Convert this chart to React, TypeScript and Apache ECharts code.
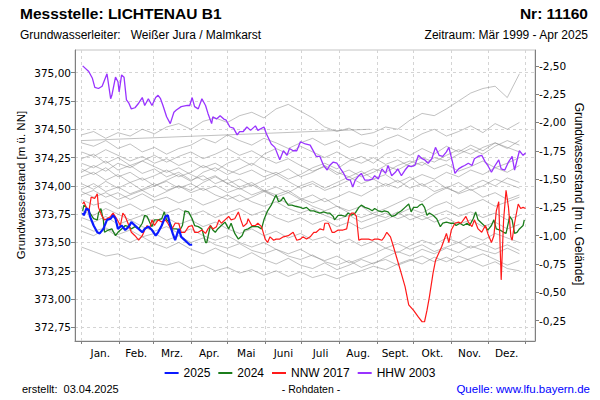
import React, { useEffect, useRef } from "react";
import * as echarts from "echarts";

// ---------- axis definitions ----------
const MONTH_LABELS = ["Jan.", "Feb.", "Mrz.", "Apr.", "Mai", "Juni", "Juli", "Aug.", "Sept.", "Okt.", "Nov.", "Dez."];
const MONTH_STARTS = [0, 31, 59, 90, 120, 151, 181, 212, 243, 273, 304, 334, 365];
const MONTH_MIDS = [15.5, 45, 74.5, 105, 135.5, 166, 196.5, 227.5, 258, 288.5, 319, 349.5];
const LEFT_TICKS = [372.75, 373, 373.25, 373.5, 373.75, 374, 374.25, 374.5, 374.75, 375];
const RIGHT_TICKS = [-2.5, -2.25, -2, -1.75, -1.5, -1.25, -1, -0.75, -0.5, -0.25];
const GROUND_LEVEL = 372.56; // m ü. NN reference for "m u. Gelände"
const Y_MIN = 372.63;
const Y_MAX = 375.2;
const X_MIN = -5.3;
const X_MAX = 372.8;

// ---------- highlighted years: [day of year, level m ü. NN] ----------
const Y2025: number[][] = [
  [1, 373.76], [2, 373.74], [4, 373.80], [6, 373.79], [7, 373.73], [10, 373.65], [13, 373.59], [15, 373.58], [18, 373.62], [21, 373.70],
  [24, 373.71], [26, 373.74], [28, 373.71], [30, 373.62], [33, 373.65], [36, 373.61], [39, 373.64], [41, 373.68], [44, 373.65], [47, 373.62],
  [50, 373.59], [52, 373.62], [55, 373.64], [58, 373.61], [61, 373.56], [63, 373.59], [66, 373.65], [69, 373.73], [71, 373.74], [73, 373.65],
  [75, 373.58], [77, 373.52], [80, 373.62], [82, 373.55], [84, 373.53], [87, 373.50], [89, 373.48], [91, 373.48],
];

const Y2024: number[][] = [
  [1, 373.78], [2, 373.83], [4, 373.81], [7, 373.76], [10, 373.71], [13, 373.70], [14, 373.76], [16, 373.80], [18, 373.70], [19, 373.59],
  [22, 373.61], [25, 373.62], [28, 373.56], [30, 373.59], [33, 373.62], [36, 373.65], [39, 373.64], [41, 373.62], [44, 373.64], [47, 373.62],
  [50, 373.67], [52, 373.74], [54, 373.73], [56, 373.68], [58, 373.64], [60, 373.70], [63, 373.70], [66, 373.71], [68, 373.77], [70, 373.70],
  [73, 373.67], [75, 373.62], [78, 373.62], [81, 373.61], [83, 373.65], [85, 373.78], [88, 373.77], [91, 373.71], [93, 373.65], [96, 373.64],
  [99, 373.62], [102, 373.50], [103, 373.50], [106, 373.65], [108, 373.61], [110, 373.59], [112, 373.62], [115, 373.65], [118, 373.68], [121, 373.62],
  [123, 373.67], [126, 373.58], [129, 373.53], [132, 373.56], [134, 373.61], [137, 373.62], [140, 373.64], [143, 373.64], [145, 373.64], [148, 373.62],
  [150, 373.70], [153, 373.78], [156, 373.83], [159, 373.90], [160, 373.92], [162, 373.86], [164, 373.87], [166, 373.90], [168, 373.86], [170, 373.83],
  [173, 373.83], [176, 373.82], [180, 373.81], [182, 373.80], [185, 373.81], [188, 373.78], [191, 373.78], [193, 373.77], [196, 373.76], [199, 373.77],
  [202, 373.76], [204, 373.76], [207, 373.73], [208, 373.70], [211, 373.74], [214, 373.74], [217, 373.73], [219, 373.76], [222, 373.74], [225, 373.76],
  [228, 373.81], [230, 373.83], [233, 373.81], [236, 373.80], [239, 373.78], [241, 373.80], [244, 373.78], [247, 373.77], [249, 373.78], [252, 373.77],
  [255, 373.73], [258, 373.74], [260, 373.76], [263, 373.78], [266, 373.81], [269, 373.84], [271, 373.77], [273, 373.81], [276, 373.81], [278, 373.83],
  [280, 373.84], [282, 373.81], [284, 373.74], [286, 373.76], [289, 373.74], [292, 373.71], [295, 373.64], [297, 373.67], [300, 373.68], [303, 373.67],
  [306, 373.67], [308, 373.65], [311, 373.67], [314, 373.65], [317, 373.67], [319, 373.65], [322, 373.71], [324, 373.77], [326, 373.70], [329, 373.67],
  [332, 373.64], [334, 373.61], [337, 373.65], [339, 373.70], [341, 373.62], [344, 373.61], [347, 373.59], [349, 373.58], [352, 373.73], [354, 373.70],
  [356, 373.58], [358, 373.59], [360, 373.62], [363, 373.65], [364, 373.70],
];

const NNW2017: number[][] = [
  [1, 373.84], [2, 373.86], [4, 373.81], [6, 373.77], [8, 373.90], [11, 373.89], [13, 373.93], [14, 373.81], [17, 373.73], [19, 373.70],
  [21, 373.71], [24, 373.73], [26, 373.76], [29, 373.71], [32, 373.65], [34, 373.76], [36, 373.73], [39, 373.65], [41, 373.59], [44, 373.56],
  [47, 373.52], [50, 373.56], [52, 373.61], [54, 373.65], [56, 373.62], [58, 373.70], [60, 373.65], [63, 373.70], [66, 373.68], [69, 373.70],
  [71, 373.67], [74, 373.61], [77, 373.67], [80, 373.67], [82, 373.59], [85, 373.59], [88, 373.64], [91, 373.65], [93, 373.59], [96, 373.59],
  [99, 373.61], [102, 373.58], [104, 373.62], [106, 373.65], [108, 373.62], [111, 373.64], [113, 373.70], [115, 373.67], [118, 373.70], [121, 373.73],
  [123, 373.70], [126, 373.71], [129, 373.77], [131, 373.70], [133, 373.64], [136, 373.67], [137, 373.71], [140, 373.65], [143, 373.65], [145, 373.67],
  [148, 373.64], [151, 373.53], [153, 373.50], [155, 373.55], [158, 373.52], [160, 373.53], [163, 373.53], [166, 373.55], [170, 373.56], [174, 373.59],
  [177, 373.52], [180, 373.53], [182, 373.55], [185, 373.53], [188, 373.55], [191, 373.59], [193, 373.59], [196, 373.62], [199, 373.61], [200, 373.67],
  [203, 373.67], [206, 373.59], [208, 373.59], [211, 373.61], [215, 373.61], [218, 373.62], [220, 373.73], [222, 373.76], [224, 373.76], [226, 373.73],
  [228, 373.52], [230, 373.53], [233, 373.53], [236, 373.53], [239, 373.52], [241, 373.53], [244, 373.53], [247, 373.52], [249, 373.55], [251, 373.59],
  [254, 373.55], [256, 373.48], [259, 373.37], [262, 373.26], [266, 373.11], [269, 372.95], [273, 372.90], [277, 372.84], [280, 372.80], [282, 372.80],
  [284, 372.90], [286, 373.02], [289, 373.23], [291, 373.34], [293, 373.39], [296, 373.46], [298, 373.52], [300, 373.58], [302, 373.50], [304, 373.61],
  [307, 373.67], [310, 373.68], [312, 373.67], [314, 373.70], [316, 373.73], [318, 373.68], [321, 373.64], [323, 373.70], [326, 373.62], [329, 373.59],
  [332, 373.65], [334, 373.58], [337, 373.50], [339, 373.56], [341, 373.78], [343, 373.86], [345, 373.17], [347, 373.70], [349, 373.96], [351, 373.81],
  [353, 373.55], [354, 373.52], [356, 373.67], [359, 373.84], [361, 373.80], [363, 373.81], [365, 373.80],
];

const HHW2003: number[][] = [
  [1, 375.06], [6, 375.01], [9, 374.95], [11, 374.87], [14, 374.86], [17, 374.88], [21, 374.99], [24, 374.77], [25, 374.80], [28, 374.96],
  [30, 374.92], [31, 374.83], [33, 374.98], [35, 374.96], [37, 374.76], [39, 374.73], [41, 374.68], [44, 374.69], [47, 374.73], [50, 374.78],
  [52, 374.71], [55, 374.77], [58, 374.71], [61, 374.78], [63, 374.80], [65, 374.77], [67, 374.71], [70, 374.61], [73, 374.55], [76, 374.65],
  [78, 374.67], [82, 374.70], [87, 374.71], [89, 374.71], [91, 374.78], [93, 374.70], [96, 374.68], [99, 374.77], [102, 374.71], [104, 374.64],
  [107, 374.55], [108, 374.61], [111, 374.59], [114, 374.62], [117, 374.59], [119, 374.58], [122, 374.52], [125, 374.51], [128, 374.45], [130, 374.48],
  [133, 374.48], [136, 374.52], [139, 374.49], [143, 374.53], [145, 374.49], [150, 374.52], [152, 374.46], [156, 374.37], [159, 374.34], [163, 374.23],
  [166, 374.31], [169, 374.27], [171, 374.33], [174, 374.31], [177, 374.31], [180, 374.39], [184, 374.37], [188, 374.36], [191, 374.30], [193, 374.26],
  [196, 374.26], [199, 374.18], [202, 374.14], [204, 374.18], [207, 374.21], [210, 374.20], [213, 374.15], [215, 374.12], [218, 374.06], [221, 374.05],
  [223, 373.99], [225, 374.05], [228, 374.09], [230, 374.11], [233, 374.05], [236, 374.05], [239, 374.06], [241, 374.09], [244, 374.06], [247, 374.15],
  [250, 374.11], [252, 374.18], [255, 374.09], [258, 374.12], [260, 374.15], [263, 374.09], [266, 374.14], [269, 374.18], [271, 374.17], [274, 374.18],
  [277, 374.27], [280, 374.24], [282, 374.23], [285, 374.20], [288, 374.24], [291, 374.34], [294, 374.27], [297, 374.26], [300, 374.30], [302, 374.34],
  [305, 374.21], [307, 374.11], [310, 374.15], [313, 374.17], [315, 374.18], [318, 374.20], [321, 374.18], [323, 374.24], [326, 374.26], [329, 374.27],
  [332, 374.21], [334, 374.18], [337, 374.12], [340, 374.18], [343, 374.23], [345, 374.15], [348, 374.14], [351, 374.21], [354, 374.26], [356, 374.14],
  [360, 374.31], [363, 374.27], [365, 374.29],
];

// ---------- other years of the record (grey), sampled every 10 days ----------
const GRAY_DAYS = [0, 10, 20, 30, 40, 50, 60, 70, 80, 90, 100, 110, 120, 130, 140, 150, 160, 170, 180, 190, 200, 210, 220, 230, 240, 250, 260, 270, 280, 290, 300, 310, 320, 330, 340, 350, 360];
const G01 = [374.45, 374.48, 374.42, 374.47, 374.44, 374.50, 374.46, 374.52, 374.55, 374.50, 374.57, 374.60, 374.56, 374.62, 374.65, 374.60, 374.68, 374.72, 374.66, 374.60, 374.52, 374.48, 374.51, 374.45, 374.47, 374.52, 374.50, 374.58, 374.64, 374.62, 374.68, 374.75, 374.82, 374.86, 374.88, 374.78, 374.99];
const G02 = [374.38, 374.35, 374.40, 374.33, 374.37, 374.30, 374.34, 374.28, 374.33, 374.36, 374.42, 374.38, 374.45, 374.40, 374.36, 374.42, 374.38, 374.33, 374.38, 374.42, 374.36, 374.40, 374.34, 374.38, 374.35, 374.41, 374.45, 374.40, 374.46, 374.50, 374.44, 374.48, 374.53, 374.47, 374.55, 374.50, 374.56];
const G03 = [374.24, 374.28, 374.20, 374.25, 374.18, 374.22, 374.27, 374.21, 374.26, 374.30, 374.24, 374.28, 374.33, 374.27, 374.31, 374.25, 374.20, 374.24, 374.18, 374.13, 374.17, 374.10, 374.14, 374.08, 374.12, 374.18, 374.14, 374.20, 374.25, 374.21, 374.27, 374.32, 374.28, 374.34, 374.38, 374.33, 374.40];
const G04 = [374.15, 374.10, 374.16, 374.08, 374.12, 374.05, 374.09, 374.14, 374.08, 374.12, 374.18, 374.13, 374.20, 374.24, 374.18, 374.28, 374.33, 374.28, 374.35, 374.30, 374.25, 374.30, 374.24, 374.20, 374.25, 374.19, 374.23, 374.17, 374.21, 374.15, 374.19, 374.13, 374.17, 374.22, 374.16, 374.20, 374.25];
const G05 = [374.08, 374.12, 374.05, 374.10, 374.03, 374.07, 374.00, 374.04, 373.98, 374.02, 373.96, 374.00, 373.94, 373.98, 373.92, 373.96, 373.90, 373.94, 373.88, 373.92, 373.86, 373.90, 373.95, 373.91, 373.97, 374.02, 373.98, 374.05, 374.10, 374.06, 374.12, 374.08, 374.14, 374.10, 374.16, 374.12, 374.18];
const G06 = [374.20, 374.16, 374.22, 374.14, 374.18, 374.11, 374.15, 374.08, 374.12, 374.05, 374.09, 374.02, 374.06, 373.99, 374.03, 373.96, 373.92, 373.96, 373.89, 373.85, 373.89, 373.82, 373.78, 373.82, 373.75, 373.72, 373.77, 373.70, 373.74, 373.68, 373.72, 373.66, 373.70, 373.64, 373.68, 373.62, 373.66];
const G07 = [374.02, 373.97, 374.04, 373.98, 374.03, 373.96, 374.00, 374.05, 374.10, 374.04, 374.12, 374.16, 374.10, 374.15, 374.20, 374.14, 374.10, 374.15, 374.08, 374.12, 374.18, 374.12, 374.08, 374.13, 374.06, 374.10, 374.03, 374.08, 374.00, 374.05, 373.98, 374.03, 373.96, 374.00, 374.06, 374.02, 373.98];
const G08 = [373.92, 373.96, 373.90, 373.94, 373.88, 373.93, 373.87, 373.90, 373.85, 373.89, 373.83, 373.87, 373.92, 373.86, 373.90, 373.95, 373.99, 373.94, 374.00, 374.04, 373.98, 374.03, 374.08, 374.02, 374.06, 374.00, 374.05, 373.98, 374.02, 373.95, 373.99, 373.93, 373.97, 373.90, 373.94, 373.88, 373.92];
const G09 = [374.30, 374.26, 374.32, 374.27, 374.22, 374.26, 374.20, 374.24, 374.18, 374.22, 374.16, 374.20, 374.14, 374.10, 374.14, 374.08, 374.12, 374.06, 374.10, 374.16, 374.20, 374.15, 374.22, 374.26, 374.20, 374.28, 374.32, 374.27, 374.33, 374.28, 374.35, 374.30, 374.36, 374.31, 374.38, 374.34, 374.30];
const G10 = [373.88, 373.83, 373.86, 373.80, 373.84, 373.78, 373.82, 373.76, 373.80, 373.74, 373.78, 373.72, 373.76, 373.80, 373.74, 373.78, 373.72, 373.68, 373.72, 373.66, 373.70, 373.64, 373.68, 373.62, 373.66, 373.70, 373.75, 373.80, 373.76, 373.82, 373.86, 373.80, 373.84, 373.88, 373.82, 373.86, 373.90];
const G11 = [373.78, 373.74, 373.80, 373.75, 373.70, 373.74, 373.68, 373.72, 373.66, 373.70, 373.64, 373.68, 373.62, 373.58, 373.62, 373.56, 373.60, 373.54, 373.58, 373.52, 373.55, 373.49, 373.53, 373.47, 373.51, 373.45, 373.49, 373.44, 373.48, 373.42, 373.46, 373.50, 373.45, 373.49, 373.44, 373.48, 373.43];
const G12 = [373.65, 373.60, 373.63, 373.57, 373.61, 373.55, 373.58, 373.52, 373.56, 373.50, 373.54, 373.48, 373.45, 373.49, 373.43, 373.40, 373.44, 373.38, 373.35, 373.39, 373.33, 373.30, 373.34, 373.28, 373.32, 373.35, 373.30, 373.34, 373.38, 373.33, 373.37, 373.32, 373.36, 373.40, 373.35, 373.30, 373.34];
const G13 = [373.46, 373.42, 373.38, 373.40, 373.35, 373.37, 373.32, 373.30, 373.33, 373.27, 373.30, 373.25, 373.28, 373.23, 373.26, 373.21, 373.25, 373.20, 373.24, 373.19, 373.22, 373.18, 373.22, 373.25, 373.29, 373.26, 373.31, 373.35, 373.31, 373.37, 373.33, 373.38, 373.34, 373.29, 373.33, 373.27, 373.25];
const G14 = [373.72, 373.68, 373.73, 373.66, 373.70, 373.64, 373.60, 373.64, 373.58, 373.62, 373.56, 373.52, 373.56, 373.50, 373.46, 373.50, 373.44, 373.40, 373.44, 373.38, 373.34, 373.38, 373.32, 373.36, 373.40, 373.45, 373.41, 373.47, 373.52, 373.48, 373.54, 373.50, 373.56, 373.52, 373.58, 373.54, 373.50];
const G15 = [373.97, 374.02, 373.95, 373.99, 373.93, 373.97, 374.02, 373.96, 374.00, 373.94, 373.98, 373.92, 373.88, 373.92, 373.86, 373.82, 373.86, 373.80, 373.76, 373.80, 373.74, 373.70, 373.74, 373.68, 373.72, 373.76, 373.71, 373.75, 373.70, 373.74, 373.78, 373.73, 373.77, 373.72, 373.76, 373.70, 373.74];
const G16 = [374.12, 374.18, 374.13, 374.20, 374.16, 374.22, 374.17, 374.12, 374.16, 374.10, 374.05, 374.09, 374.02, 373.97, 374.01, 373.95, 373.90, 373.84, 373.88, 373.82, 373.78, 373.82, 373.76, 373.72, 373.76, 373.80, 373.85, 373.90, 373.86, 373.93, 373.98, 373.94, 374.00, 374.05, 374.00, 374.07, 374.03];
const G17 = [373.95, 373.90, 373.94, 373.88, 373.92, 373.96, 373.90, 373.95, 374.00, 373.96, 374.03, 374.08, 374.02, 374.06, 374.00, 374.05, 374.10, 374.04, 373.98, 374.02, 373.96, 374.00, 374.05, 374.10, 374.15, 374.12, 374.18, 374.22, 374.18, 374.25, 374.22, 374.28, 374.33, 374.28, 374.35, 374.40, 374.36];
const G18 = [373.60, 373.56, 373.62, 373.55, 373.50, 373.55, 373.49, 373.45, 373.50, 373.44, 373.40, 373.45, 373.40, 373.36, 373.41, 373.35, 373.31, 373.36, 373.30, 373.27, 373.32, 373.26, 373.30, 373.35, 373.31, 373.37, 373.42, 373.38, 373.44, 373.40, 373.45, 373.41, 373.47, 373.43, 373.40, 373.45, 373.40];
const GRAY_SPARSE: number[][] = [[0, 374.40], [237, 374.50]];
const GRAY_YEARS = [G01, G02, G03, G04, G05, G06, G07, G08, G09, G10, G11, G12, G13, G14, G15, G16, G17, G18];

const fmt = (v: number) => v.toFixed(2).replace(".", ",");
const SANS = '"Liberation Sans", Arial, sans-serif';
const TICKFONT = '"DejaVu Sans", sans-serif';

export default function App() {
  const ref = useRef<HTMLDivElement>(null);

  useEffect(() => {
    const chart = echarts.init(ref.current!, null, { renderer: "svg" });

    const grayStyle = { color: "#8c8c8c", width: 0.9, opacity: 0.6 };
    const graySeries: any[] = GRAY_YEARS.map((vals, i) => ({
      name: "g" + i,
      type: "line",
      data: GRAY_DAYS.map((d, j) => [d, vals[j]]),
      showSymbol: false,
      symbol: "none",
      silent: true,
      lineStyle: grayStyle,
      z: 1,
    }));
    graySeries.push({
      name: "gs",
      type: "line",
      data: GRAY_SPARSE,
      showSymbol: false,
      symbol: "none",
      silent: true,
      lineStyle: grayStyle,
      z: 1,
    });

    const mk = (name: string, data: number[][], color: string, width: number, z: number) => ({
      name,
      type: "line",
      data,
      showSymbol: false,
      symbol: "none",
      lineStyle: { color, width },
      itemStyle: { color },
      z,
    });

    const option: any = {
      animation: false,
      backgroundColor: "#ffffff",
      grid: {
        left: 75,
        right: 65,
        top: 50,
        bottom: 59,
        show: true,
        borderColor: "#c4c4c4",
        borderWidth: 1,
        containLabel: false,
      },
      legend: {
        data: ["2025", "2024", "NNW 2017", "HHW 2003"],
        left: "center",
        top: 362,
        icon: "rect",
        itemWidth: 14,
        itemHeight: 2,
        itemGap: 8,
        textStyle: { fontFamily: SANS, fontSize: 12, color: "#000" },
        selectedMode: false,
      },
      xAxis: {
        type: "value",
        min: X_MIN,
        max: X_MAX,
        axisLine: { show: true, onZero: false, lineStyle: { color: "#808080" } },
        axisTick: { show: true, length: 3, customValues: MONTH_STARTS, lineStyle: { color: "#808080" } },
        axisLabel: {
          customValues: MONTH_MIDS,
          formatter: (v: number) => {
            let best = 0;
            MONTH_MIDS.forEach((m, i) => {
              if (Math.abs(m - v) < Math.abs(MONTH_MIDS[best] - v)) best = i;
            });
            return MONTH_LABELS[best];
          },
          fontFamily: TICKFONT,
          fontSize: 10.5,
          color: "#000",
          margin: 6,
        },
        splitLine: { show: true, lineStyle: { color: "#d4d4d4", type: [3, 3] } },
      },
      yAxis: [
        {
          type: "value",
          position: "left",
          min: Y_MIN,
          max: Y_MAX,
          axisLine: { show: true, onZero: false, lineStyle: { color: "#808080" } },
          axisTick: { show: true, length: 4, customValues: LEFT_TICKS, lineStyle: { color: "#808080" } },
          axisLabel: { customValues: LEFT_TICKS, formatter: fmt, fontFamily: TICKFONT, fontSize: 10.5, color: "#000", margin: 4 },
          splitLine: { show: true, lineStyle: { color: "#d4d4d4", type: [3, 3] } },
        },
        {
          type: "value",
          position: "right",
          inverse: true,
          min: GROUND_LEVEL - Y_MAX,
          max: GROUND_LEVEL - Y_MIN,
          axisLine: { show: true, onZero: false, lineStyle: { color: "#808080" } },
          axisTick: { show: true, length: 4, customValues: RIGHT_TICKS, lineStyle: { color: "#808080" } },
          axisLabel: { customValues: RIGHT_TICKS, formatter: fmt, fontFamily: TICKFONT, fontSize: 10.5, color: "#000", margin: 4 },
          splitLine: { show: false },
        },
      ],
      series: [
        ...graySeries,
        mk("2024", Y2024, "#1b7d1b", 1.3, 3),
        mk("NNW 2017", NNW2017, "#ff1a1a", 1.2, 4),
        mk("HHW 2003", HHW2003, "#9933ff", 1.3, 5),
        mk("2025", Y2025, "#0a1aff", 2.2, 6),
      ],
      graphic: [
        { type: "text", x: 20, y: 13, style: { text: "Messstelle: LICHTENAU B1", fontFamily: SANS, fontSize: 15.5, fontWeight: "bold", fill: "#000", verticalAlign: "middle" } },
        { type: "text", x: 588, y: 13, style: { text: "Nr: 11160", fontFamily: SANS, fontSize: 15.5, fontWeight: "bold", fill: "#000", align: "right", verticalAlign: "middle" } },
        { type: "text", x: 20, y: 35, style: { text: "Grundwasserleiter:   Weißer Jura / Malmkarst", fontFamily: SANS, fontSize: 12, fill: "#000", verticalAlign: "middle" } },
        { type: "text", x: 588, y: 35, style: { text: "Zeitraum: Mär 1999 - Apr 2025", fontFamily: SANS, fontSize: 12, fill: "#000", align: "right", verticalAlign: "middle" } },
        { type: "text", x: 21, y: 185, rotation: Math.PI / 2, style: { text: "Grundwasserstand [m ü. NN]", fontFamily: SANS, fontSize: 11.5, fill: "#000", align: "center", verticalAlign: "middle" } },
        { type: "text", x: 579, y: 194, rotation: -Math.PI / 2, style: { text: "Grundwasserstand [m u. Gelände]", fontFamily: SANS, fontSize: 12, fill: "#000", align: "center", verticalAlign: "middle" } },
        { type: "text", x: 22, y: 389, style: { text: "erstellt:  03.04.2025", fontFamily: SANS, fontSize: 11, fill: "#000", verticalAlign: "middle" } },
        { type: "text", x: 311, y: 389, style: { text: "- Rohdaten -", fontFamily: SANS, fontSize: 10.5, fill: "#000", align: "center", verticalAlign: "middle" } },
        { type: "text", x: 590, y: 389, style: { text: "Quelle: www.lfu.bayern.de", fontFamily: SANS, fontSize: 11.5, fill: "#0000ff", align: "right", verticalAlign: "middle" } },
      ],
    };

    chart.setOption(option);
    return () => chart.dispose();
  }, []);

  return <div ref={ref} style={{ position: "absolute", left: 0, top: 0, width: 600, height: 400 }} />;
}
